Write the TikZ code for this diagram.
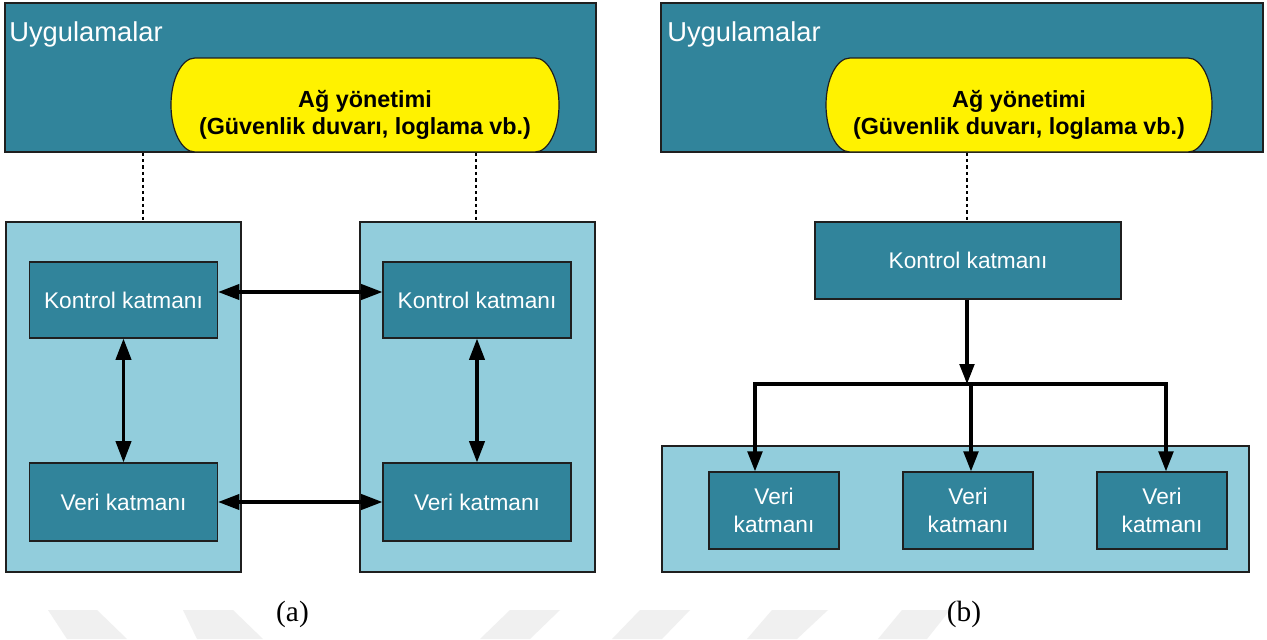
\documentclass[tikz,border=0pt]{standalone}
\usepackage{fontspec}
\setmainfont{Liberation Sans}
\newfontfamily\capfont{Liberation Serif}
\usetikzlibrary{arrows.meta,calc}
\definecolor{teal}{HTML}{31849B}
\definecolor{lightteal}{HTML}{92CDDC}
\definecolor{edge}{HTML}{1F1F1F}
\definecolor{wmark}{HTML}{F0F0F0}
\tikzset{
  darkbox/.style={draw=edge,line width=0.9pt,fill=teal,text=white,inner sep=0pt,
    font=\fontsize{17pt}{20.5pt}\selectfont,align=center},
  lightbox/.style={draw=edge,line width=0.9pt,fill=lightteal,inner sep=0pt},
  topbar/.style={draw=edge,line width=0.9pt,fill=teal,inner sep=0pt},
  cylshape/.style={draw=edge,line width=0.9pt,fill=yellow},
  dotline/.style={line width=1.9pt,dash pattern=on 2.6pt off 2.2pt},
  conn/.style={line width=2.4pt},
  biarrow/.style={conn,{Triangle[length=16pt,width=11.5pt]}-{Triangle[length=16pt,width=11.5pt]}},
  onearrow/.style={conn,-{Triangle[length=15pt,width=11pt]}},
  toptext/.style={text=white,font=\fontsize{20.5pt}{24pt}\selectfont,inner sep=0pt,anchor=west},
  mgmttext/.style={font=\bfseries\fontsize{17.5pt}{20.3pt}\selectfont,align=center,inner sep=0pt},
  captext/.style={font=\capfont\fontsize{22pt}{26pt}\selectfont,inner sep=0pt},
  wm/.style={fill=wmark,draw=none}
}
\begin{document}
\begin{tikzpicture}[x=0.75pt,y=-0.75pt]
\useasboundingbox (0,0) rectangle (1267,639);
\fill[white] (0,0) rectangle (1267,639);

% faint watermark bands
\fill[wm] (48,610) -- (97,610) -- (127,639) -- (67,639) -- cycle;
\fill[wm] (183,610) -- (233,610) -- (263,639) -- (197,639) -- cycle;
\fill[wm] (510,610) -- (560,610) -- (530,639) -- (480,639) -- cycle;
\fill[wm] (640,610) -- (690,610) -- (662,639) -- (612,639) -- cycle;
\fill[wm] (772,610) -- (828,610) -- (797,639) -- (747,639) -- cycle;
\fill[wm] (902,610) -- (950,610) -- (927,639) -- (878,639) -- cycle;

% ---------------- (a) ----------------
\node[topbar,minimum width=443.25pt,minimum height=111.75pt] (topA) at (300.5,77.5) {};
\node[toptext] (uygA) at (9,34) {Uygulamalar};
\path[cylshape] (195,58) -- (535,58)
  arc[start angle=90,end angle=-90,x radius=18pt,y radius=35.25pt] -- (195,152)
  arc[start angle=270,end angle=90,x radius=18pt,y radius=35.25pt] -- cycle;
\node[mgmttext] (mgA) at (365,115) {Ağ yönetimi\\(Güvenlik duvarı, loglama vb.)};

\node[lightbox,minimum width=176.25pt,minimum height=262.5pt] (lowA1) at (123.5,397) {};
\node[lightbox,minimum width=176.25pt,minimum height=262.5pt] (lowA2) at (477.5,397) {};

\coordinate (dA1) at (143,222);
\coordinate (dA2) at (476,222);
\draw[dotline] (dA1 |- topA.south) -- (dA1);
\draw[dotline] (dA2 |- topA.south) -- (dA2);

\node[darkbox,minimum width=141pt,minimum height=57pt] (kA1) at (123.5,300) {Kontrol katmanı};
\node[darkbox,minimum width=141pt,minimum height=57pt] (kA2) at (477,300) {Kontrol katmanı};
\node[darkbox,minimum width=141pt,minimum height=58.5pt] (vA1) at (123.5,502) {Veri katmanı};
\node[darkbox,minimum width=141pt,minimum height=58.5pt] (vA2) at (477,502) {Veri katmanı};

\draw[biarrow] ([yshift=6pt]kA1.east) -- ([yshift=6pt]kA2.west);
\draw[biarrow] (vA1.east) -- (vA2.west);
\draw[biarrow] (kA1.south) -- (vA1.north);
\draw[biarrow] (kA2.south) -- (vA2.north);

\node[captext] (capA) at (292.5,614) {(a)};

% ---------------- (b) ----------------
\node[topbar,minimum width=451.5pt,minimum height=111.75pt] (topB) at (962,77.5) {};
\node[toptext] (uygB) at (667,34) {Uygulamalar};
\path[cylshape] (850,58) -- (1188,58)
  arc[start angle=90,end angle=-90,x radius=18pt,y radius=35.25pt] -- (850,152)
  arc[start angle=270,end angle=90,x radius=18pt,y radius=35.25pt] -- cycle;
\node[mgmttext] (mgB) at (1019,115) {Ağ yönetimi\\(Güvenlik duvarı, loglama vb.)};

\node[darkbox,minimum width=229.5pt,minimum height=57.75pt] (kB) at (968,260.5) {Kontrol katmanı};
\coordinate (dB) at (967,222);
\draw[dotline] (dB |- topB.south) -- (dB);

\node[lightbox,minimum width=440.25pt,minimum height=94.5pt] (lowB) at (955.5,509) {};
\node[darkbox,minimum width=97.5pt,minimum height=57.75pt] (vB1) at (774,510.5) {Veri\\katmanı};
\node[darkbox,minimum width=97.5pt,minimum height=57.75pt] (vB2) at (968,510.5) {Veri\\katmanı};
\node[darkbox,minimum width=97.5pt,minimum height=57.75pt] (vB3) at (1162,510.5) {Veri\\katmanı};

\coordinate (jB) at (967,384);
\coordinate (bL) at (755,384);
\coordinate (bM) at (971,384);
\coordinate (bR) at (1166,384);
\draw[onearrow] (kB.south -| jB) -- (jB);
\draw[conn,line cap=rect] (bL) -- (bR);
\draw[onearrow] (bL) -- (bL |- vB1.north);
\draw[onearrow] (bM) -- (bM |- vB2.north);
\draw[onearrow] (bR) -- (bR |- vB3.north);

\node[captext] (capB) at (964,614) {(b)};
\end{tikzpicture}
\end{document}
